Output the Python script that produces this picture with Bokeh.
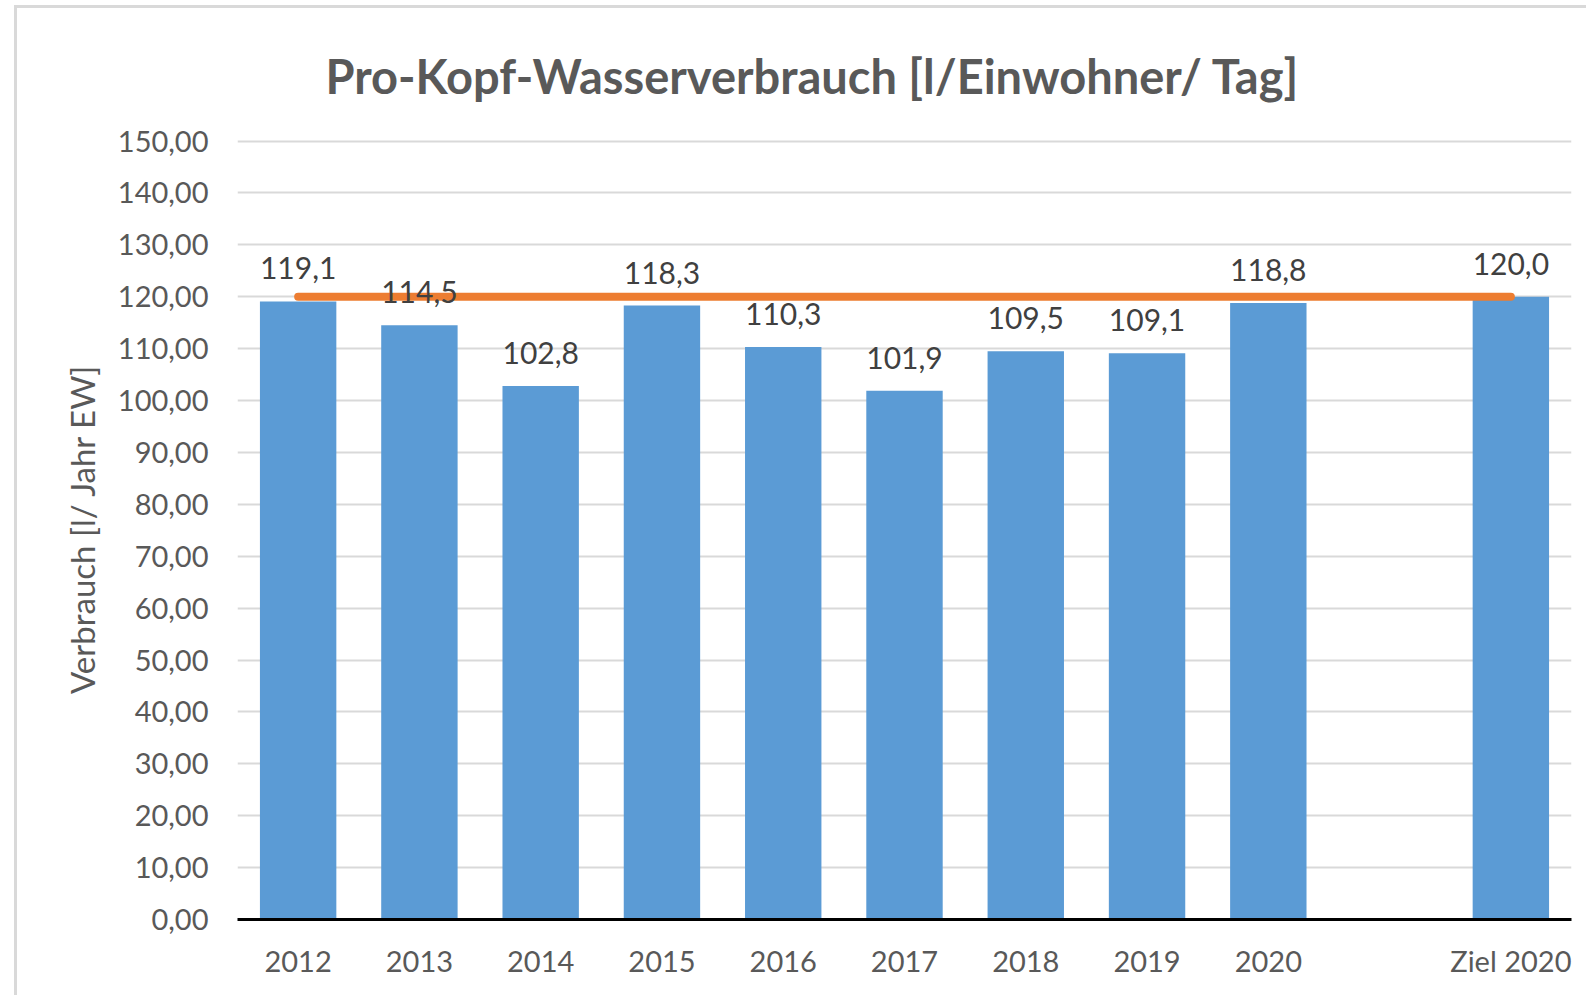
from bokeh.plotting import figure
from bokeh.models import FactorRange, Range1d, FixedTicker, ColumnDataSource, Title
from bokeh.core.properties import value
from bokeh.embed import file_html
from bokeh.resources import INLINE

# ---- data ----
categories = ["2012", "2013", "2014", "2015", "2016", "2017", "2018", "2019", "2020", " ", "Ziel 2020"]
bar_categories = ["2012", "2013", "2014", "2015", "2016", "2017", "2018", "2019", "2020", "Ziel 2020"]
consumption = [119.1, 114.5, 102.8, 118.3, 110.3, 101.9, 109.5, 109.1, 118.8, 120.0]
target = [120.0, 120.0, 120.0, 120.0, 120.0, 120.0, 120.0, 120.0, 120.0, 120.0]
y_ticks = [0, 10, 20, 30, 40, 50, 60, 70, 80, 90, 100, 110, 120, 130, 140, 150]

FONT = "Lato"
GREY = "#595959"

labels = [f"{v:.1f}".replace(".", ",") for v in consumption]
src = ColumnDataSource(dict(x=bar_categories, top=consumption, label=labels))
line_src = ColumnDataSource(dict(x=bar_categories, y=target))

p = figure(
    x_range=FactorRange(*categories, range_padding=0),
    y_range=Range1d(0, 150.5),
    width=1572, height=990,
    output_backend="svg", toolbar_location=None,
    min_border_left=220, min_border_right=18,
    min_border_top=130, min_border_bottom=79,
)
p.margin = (5, 0, 0, 14)
p.styles = {"border-left": "3px solid #D9D9D9", "border-top": "3px solid #D9D9D9"}

title = Title(text="Pro-Kopf-Wasserverbrauch [l/Einwohner/ Tag]", align="left", offset=88,
              vertical_align="top",
              text_font=FONT, text_font_size="47px", text_font_style="bold",
              text_color=GREY, standoff=66)
p.add_layout(title, "above")

p.vbar(x="x", top="top", width=0.63, source=src, color="#5B9BD5", line_color=None)
p.line(x="x", y="y", source=line_src, line_color="#ED7D31", line_width=8, line_cap="round")
p.text(x="x", y="top", text="label", source=src, text_align="center", text_baseline="alphabetic",
       y_offset=-33, text_font=value(FONT), text_font_size="30px", text_color="#404040")

p.outline_line_color = None
p.background_fill_color = "white"
p.border_fill_color = "white"

p.xgrid.grid_line_color = None
p.ygrid.grid_line_color = "#D9D9D9"
p.ygrid.grid_line_width = 2

p.yaxis.ticker = FixedTicker(ticks=y_ticks)
p.yaxis.major_label_overrides = {t: f"{t},00" for t in y_ticks}
p.yaxis.axis_line_color = None
p.yaxis.major_tick_line_color = None
p.yaxis.minor_tick_line_color = None
p.yaxis.major_label_standoff = 23
p.yaxis.major_label_text_font = FONT
p.yaxis.major_label_text_font_size = "29px"
p.yaxis.major_label_text_color = GREY
p.yaxis.axis_label = "Verbrauch [l/ Jahr EW]"
p.yaxis.axis_label_text_font = FONT
p.yaxis.axis_label_text_font_size = "33px"
p.yaxis.axis_label_text_font_style = "normal"
p.yaxis.axis_label_text_color = GREY
p.yaxis.axis_label_standoff = 13

p.xaxis.axis_line_color = "black"
p.xaxis.axis_line_width = 3
p.xaxis.major_tick_line_color = None
p.xaxis.minor_tick_line_color = None
p.xaxis.major_label_standoff = 17
p.xaxis.major_label_text_font = FONT
p.xaxis.major_label_text_font_size = "29px"
p.xaxis.major_label_text_color = GREY

open("out.html", "w").write(file_html(p, INLINE))
